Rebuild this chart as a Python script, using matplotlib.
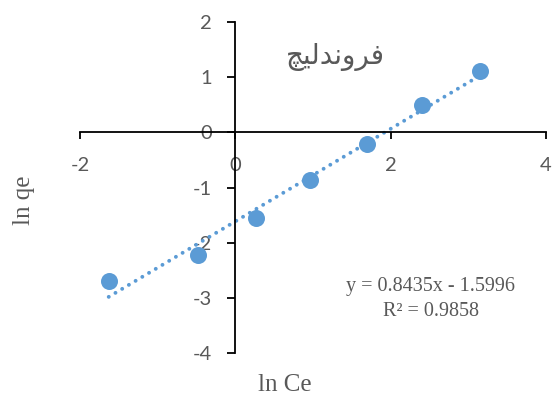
import numpy as np
import matplotlib
matplotlib.use("Agg")
import matplotlib.pyplot as plt

plt.rcParams["axes.unicode_minus"] = False

# ln Ce / ln qe
ln_ce = [-1.63, -0.48, 0.26, 0.96, 1.69, 2.40, 3.15]
ln_qe = [-2.70, -2.23, -1.56, -0.87, -0.22, 0.49, 1.12]

x_ticks = [-2, 0, 2, 4]
y_ticks = [-4, -3, -2, -1, 0, 1, 2]

# "فروندليچ" in presentation forms, visual order (no shaping in matplotlib)
title = "\uFB7B\uFEF4\uFEDF\uFEAA\uFEE7\uFEED\uFEAE\uFED3"
equation = "y = 0.8435x - 1.5996"
r_squared = "R\u00b2 = 0.9858"

BLUE = "#5B9BD5"
GREY = "#595959"


def main():
    fig = plt.figure(figsize=(5.57, 4.01), dpi=100)
    ax = fig.add_axes([80 / 557, 48 / 401, 466 / 557, 331 / 401])

    ax.scatter(ln_ce, ln_qe, s=150, color=BLUE, zorder=3, linewidths=0)

    # linear trendline
    k, b = np.polyfit(ln_ce, ln_qe, 1)
    xs = np.array([min(ln_ce), max(ln_ce)])
    ax.plot(xs, k * xs + b, color=BLUE, lw=2.8, linestyle=(0, (0.01, 2.0)),
            dash_capstyle="round", zorder=2)

    ax.set_xlim(-2, 4)
    ax.set_ylim(-4, 2)
    ax.set_xticks(x_ticks)
    ax.set_yticks(y_ticks)

    for side in ("top", "right"):
        ax.spines[side].set_visible(False)
    for side in ("left", "bottom"):
        ax.spines[side].set_position(("data", 0))
        ax.spines[side].set_linewidth(1.3)
        ax.spines[side].set_color("black")

    ax.tick_params(axis="x", direction="out", length=5, width=1.3,
                   pad=13, labelsize=14.5, labelcolor=GREY)
    ax.tick_params(axis="y", direction="out", length=6, width=1.3,
                   pad=11, labelsize=14.5, labelcolor=GREY)
    for lab in ax.get_xticklabels() + ax.get_yticklabels():
        lab.set_fontfamily("Lato")

    fig.text(285 / 557, 1 - 385 / 401, "ln Ce", family="Liberation Serif",
             fontsize=18, color=GREY, ha="center", va="center")
    fig.text(24 / 557, 1 - 200 / 401, "ln qe", family="Liberation Serif",
             fontsize=18, color=GREY, ha="center", va="center", rotation=90)

    fig.text(335 / 557, 1 - 57 / 401, title, family="DejaVu Sans",
             fontsize=20, color=GREY, ha="center", va="center")

    fig.text(431 / 557, 1 - 287 / 401, equation, family="Liberation Serif",
             fontsize=14.5, color=GREY, ha="center", va="center")
    fig.text(431 / 557, 1 - 311 / 401, r_squared, family="Liberation Serif",
             fontsize=14.5, color=GREY, ha="center", va="center")

    fig.savefig("out.png", dpi=100)


if __name__ == "__main__":
    main()
